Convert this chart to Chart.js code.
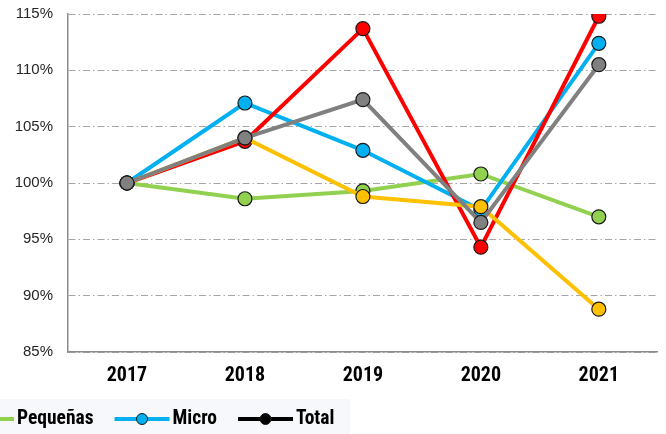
<!DOCTYPE html>
<html>
<head>
<meta charset="utf-8">
<script src="https://cdn.jsdelivr.net/npm/chart.js@4/dist/chart.umd.min.js"></script>
<style>
html,body{margin:0;padding:0;background:#fff;}
#wrap{width:666px;height:434px;position:relative;overflow:hidden;}
</style>
</head>
<body>
<div id="wrap"><canvas id="c" width="666" height="434"></canvas></div>
<script>
// ---- data ----
const years = ['2017', '2018', '2019', '2020', '2021'];
const pequenas = [100, 98.6, 99.3, 100.8, 97.0];
const micro = [100, 107.1, 102.9, 97.6, 112.4];
const grandes = [100, 103.7, 113.7, 94.3, 114.8];
const medianas = [100, 104.0, 98.8, 97.9, 88.8];
const total = [100, 104.0, 107.4, 96.5, 110.5];
const yTicks = [85, 90, 95, 100, 105, 110, 115];
const legendNames = ['Pequeñas', 'Micro', 'Total'];

const condensed = "'Roboto Condensed', 'Liberation Sans Narrow', sans-serif";

function ds(label, data, color, order, legendColor) {
  return {
    label, data, order,
    borderColor: color, backgroundColor: color,
    pointBackgroundColor: color, pointBorderColor: '#1a1a1a',
    pointBorderWidth: 1.2, pointRadius: 7, pointHoverRadius: 7,
    borderWidth: 4, tension: 0, fill: false,
    legendColor: legendColor || color
  };
}

const legendPlugin = {
  id: 'customLegend',
  afterDraw(chart) {
    const ctx = chart.ctx;
    ctx.save();
    ctx.fillStyle = '#f7f8fc';
    ctx.fillRect(0, 399, 350, 35);
    ctx.font = "bold 19.5px " + condensed;
    ctx.textBaseline = 'middle';
    const y = 419;
    let x = -41;
    const lineLen = 55;
    legendNames.forEach(name => {
      const d = chart.data.datasets.find(s => s.label === name);
      const col = d.legendColor;
      ctx.strokeStyle = col;
      ctx.lineWidth = 4;
      ctx.beginPath();
      ctx.moveTo(x, y);
      ctx.lineTo(x + lineLen, y);
      ctx.stroke();
      ctx.beginPath();
      ctx.arc(x + lineLen / 2, y, 5.5, 0, Math.PI * 2);
      ctx.fillStyle = col;
      ctx.fill();
      ctx.lineWidth = 1;
      ctx.strokeStyle = '#1a1a1a';
      ctx.stroke();
      ctx.fillStyle = '#000';
      ctx.textAlign = 'left';
      const tx = x + lineLen + 3;
      ctx.fillText(name, tx, y);
      x = tx + ctx.measureText(name).width + 21;
    });
    ctx.restore();
  }
};

new Chart(document.getElementById('c'), {
  type: 'line',
  data: {
    labels: years,
    datasets: [
      ds('Pequeñas', pequenas, '#92d050', 5),
      ds('Micro', micro, '#00b0f0', 4),
      ds('Grandes', grandes, '#ff0000', 3),
      ds('Medianas', medianas, '#ffc000', 2),
      ds('Total', total, '#808080', 1, '#000000')
    ]
  },
  options: {
    responsive: false,
    animation: false,
    events: [],
    layout: { padding: { top: 14, right: 6, left: 0, bottom: 0 } },
    plugins: { legend: { display: false }, tooltip: { enabled: false } },
    scales: {
      x: {
        offset: true,
        grid: { display: false, drawTicks: false },
        border: { display: true, color: '#8c8c8c', width: 1.5 },
        ticks: {
          color: '#000', padding: 12,
          font: { family: condensed, size: 20, weight: 'bold' }
        },
        afterFit(s) {
          s.height = 82;
          s.paddingLeft = 0; s.paddingRight = 0; s.paddingTop = 0; s.paddingBottom = 0;
        }
      },
      y: {
        min: yTicks[0], max: yTicks[yTicks.length - 1],
        afterBuildTicks(s) { s.ticks = yTicks.map(v => ({ value: v })); },
        grid: { color: '#a6a6a6', lineWidth: 1, drawTicks: false },
        border: { display: true, color: '#8c8c8c', width: 1.5, dash: [7, 3, 1.5, 3] },
        ticks: {
          color: '#262626', padding: 15,
          font: { family: "'Liberation Sans', Arial, sans-serif", size: 15 },
          callback: v => v + '%'
        },
        afterFit(s) {
          s.width = 68;
          s.paddingLeft = 0; s.paddingRight = 0; s.paddingTop = 0; s.paddingBottom = 0;
        }
      }
    }
  },
  plugins: [legendPlugin]
});
</script>
</body>
</html>
